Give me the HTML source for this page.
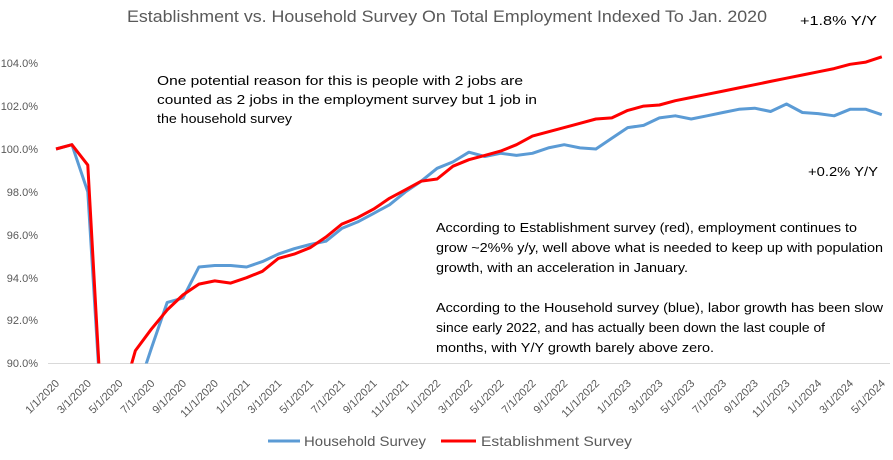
<!DOCTYPE html>
<html><head><meta charset="utf-8"><style>
html,body{margin:0;padding:0;background:#fff}
svg{display:block}
</style></head><body>
<svg width="893" height="460" viewBox="0 0 893 460" xmlns="http://www.w3.org/2000/svg" font-family="Liberation Sans, sans-serif">
<defs><clipPath id="c"><rect x="40" y="0" width="853" height="363.5"/></clipPath></defs>
<text x="447" y="22" text-anchor="middle" font-size="17" fill="#595959" textLength="640" lengthAdjust="spacingAndGlyphs">Establishment vs. Household Survey On Total Employment Indexed To Jan. 2020</text>
<g font-size="11" fill="#595959" text-anchor="end">
<text x="38" y="67">104.0%</text>
<text x="38" y="110">102.0%</text>
<text x="38" y="153">100.0%</text>
<text x="38" y="196">98.0%</text>
<text x="38" y="239">96.0%</text>
<text x="38" y="282">94.0%</text>
<text x="38" y="324">92.0%</text>
<text x="38" y="367">90.0%</text>
</g>
<line x1="48" y1="363.5" x2="890" y2="363.5" stroke="#d9d9d9" stroke-width="1"/>
<g clip-path="url(#c)" fill="none" stroke-width="3" stroke-linejoin="round">
<polyline stroke="#5B9BD5" points="56,149 71.9,144.7 87.8,191.9 103.6,449 119.5,428 135.4,396.5 151.3,348.5 167.2,302.4 183,298.1 198.9,267 214.8,265.5 230.7,265.5 246.6,267 262.4,261.6 278.3,254.1 294.2,248.7 310.1,244.5 326,241.2 341.8,228.4 357.7,221.9 373.6,213.4 389.5,204.8 405.4,191.9 421.2,181.2 437.1,168.3 453,161.9 468.9,152.2 484.8,156.5 500.6,153.3 516.5,155.4 532.4,153.3 548.3,147.9 564.2,144.7 580,147.9 595.9,149 611.8,138.3 627.7,127.6 643.6,125.4 659.4,117.9 675.3,115.8 691.2,119 707.1,115.8 723,112.5 738.8,109.3 754.7,108.2 770.6,111.5 786.5,104 802.4,112.5 818.2,113.6 834.1,115.8 850,109.3 865.9,109.3 881.8,114.7"/>
<polyline stroke="#FF0000" points="56,149 71.9,144.7 87.8,165.1 103.6,449 119.5,406 135.4,350.6 151.3,329.2 167.2,309.9 183,294.9 198.9,284.1 214.8,280.9 230.7,283.1 246.6,277.7 262.4,271.3 278.3,258.4 294.2,254.1 310.1,247.7 326,237 341.8,224.1 357.7,217.6 373.6,209.1 389.5,198.3 405.4,189.8 421.2,181.2 437.1,179 453,166.2 468.9,159.7 484.8,155.4 500.6,151.1 516.5,144.7 532.4,136.1 548.3,131.8 564.2,127.6 580,123.3 595.9,119 611.8,117.9 627.7,110.4 643.6,106.1 659.4,105 675.3,100.7 691.2,97.5 707.1,94.3 723,91.1 738.8,87.9 754.7,84.7 770.6,81.4 786.5,78.2 802.4,75 818.2,71.8 834.1,68.6 850,64.3 865.9,62.1 881.8,56.8"/>
</g>
<g font-size="11" fill="#595959" text-anchor="end">
<text transform="translate(60,384) rotate(-45)">1/1/2020</text>
<text transform="translate(91.8,384) rotate(-45)">3/1/2020</text>
<text transform="translate(123.5,384) rotate(-45)">5/1/2020</text>
<text transform="translate(155.3,384) rotate(-45)">7/1/2020</text>
<text transform="translate(187,384) rotate(-45)">9/1/2020</text>
<text transform="translate(218.8,384) rotate(-45)">11/1/2020</text>
<text transform="translate(250.6,384) rotate(-45)">1/1/2021</text>
<text transform="translate(282.3,384) rotate(-45)">3/1/2021</text>
<text transform="translate(314.1,384) rotate(-45)">5/1/2021</text>
<text transform="translate(345.8,384) rotate(-45)">7/1/2021</text>
<text transform="translate(377.6,384) rotate(-45)">9/1/2021</text>
<text transform="translate(409.4,384) rotate(-45)">11/1/2021</text>
<text transform="translate(441.1,384) rotate(-45)">1/1/2022</text>
<text transform="translate(472.9,384) rotate(-45)">3/1/2022</text>
<text transform="translate(504.6,384) rotate(-45)">5/1/2022</text>
<text transform="translate(536.4,384) rotate(-45)">7/1/2022</text>
<text transform="translate(568.2,384) rotate(-45)">9/1/2022</text>
<text transform="translate(599.9,384) rotate(-45)">11/1/2022</text>
<text transform="translate(631.7,384) rotate(-45)">1/1/2023</text>
<text transform="translate(663.4,384) rotate(-45)">3/1/2023</text>
<text transform="translate(695.2,384) rotate(-45)">5/1/2023</text>
<text transform="translate(727,384) rotate(-45)">7/1/2023</text>
<text transform="translate(758.7,384) rotate(-45)">9/1/2023</text>
<text transform="translate(790.5,384) rotate(-45)">11/1/2023</text>
<text transform="translate(822.2,384) rotate(-45)">1/1/2024</text>
<text transform="translate(854,384) rotate(-45)">3/1/2024</text>
<text transform="translate(885.8,384) rotate(-45)">5/1/2024</text>
</g>
<g font-size="13" fill="#000">
<text x="157" y="85" textLength="366" lengthAdjust="spacingAndGlyphs">One potential reason for this is people with 2 jobs are</text>
<text x="157" y="104" textLength="380" lengthAdjust="spacingAndGlyphs">counted as 2 jobs in the employment survey but 1 job in</text>
<text x="157" y="123" textLength="135" lengthAdjust="spacingAndGlyphs">the household survey</text>
<text x="800" y="25" textLength="77" lengthAdjust="spacingAndGlyphs">+1.8% Y/Y</text>
<text x="808" y="176" textLength="70" lengthAdjust="spacingAndGlyphs">+0.2% Y/Y</text>
<text x="436" y="232" textLength="421" lengthAdjust="spacingAndGlyphs">According to Establishment survey (red), employment continues to</text>
<text x="436" y="252" textLength="447" lengthAdjust="spacingAndGlyphs">grow ~2%% y/y, well above what is needed to keep up with population</text>
<text x="436" y="272" textLength="252" lengthAdjust="spacingAndGlyphs">growth, with an acceleration in January.</text>
<text x="436" y="312" textLength="447" lengthAdjust="spacingAndGlyphs">According to the Household survey (blue), labor growth has been slow</text>
<text x="436" y="332" textLength="389" lengthAdjust="spacingAndGlyphs">since early 2022, and has actually been down the last couple of</text>
<text x="436" y="352" textLength="278" lengthAdjust="spacingAndGlyphs">months, with Y/Y growth barely above zero.</text>
</g>
<line x1="268" y1="441" x2="300" y2="441" stroke="#5B9BD5" stroke-width="3"/>
<text x="304" y="446" font-size="14" fill="#595959" textLength="122" lengthAdjust="spacingAndGlyphs">Household Survey</text>
<line x1="441" y1="441" x2="476" y2="441" stroke="#FF0000" stroke-width="3"/>
<text x="481" y="446" font-size="14" fill="#595959" textLength="151" lengthAdjust="spacingAndGlyphs">Establishment Survey</text>
</svg>
</body></html>
